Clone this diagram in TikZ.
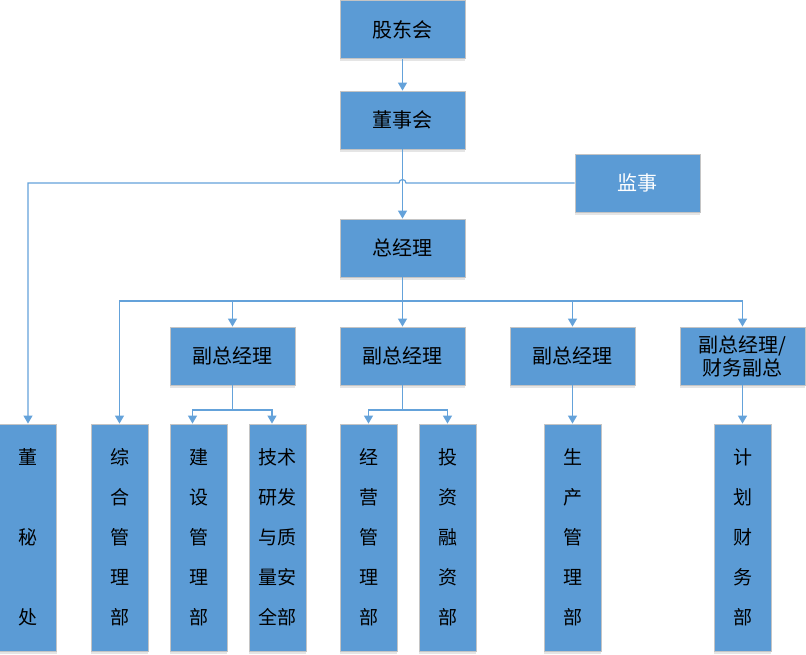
\documentclass[tikz,border=0pt]{standalone}
\usepackage{fontspec}
\setmainfont{Noto Sans CJK SC}
\usetikzlibrary{arrows.meta,shadows,calc}
\definecolor{boxblue}{HTML}{5B9BD5}
\definecolor{linkblue}{HTML}{64A2DA}
\definecolor{edgegray}{HTML}{C4C4C4}
\begin{document}
\begin{tikzpicture}[x=1pt,y=-1pt,
 box/.style={draw=edgegray, line width=0.8pt, fill=boxblue, minimum width=125pt, minimum height=58pt, inner sep=0pt, align=center, text=black, font=\fontsize{20}{23}\selectfont, drop shadow={shadow xshift=0pt, shadow yshift=-2.5pt, fill=black!10, opacity=1}},
 col/.style={box, minimum width=57pt, minimum height=227pt, font=\fontsize{19}{40}\selectfont},
 link/.style={draw=linkblue, line width=1.2pt},
 arr/.style={link, -{Triangle[width=9pt,length=8pt]}}
]
\useasboundingbox (0,0) rectangle (806,654);

\node[box] (gd)  at (402.5,29.5) {股东会};
\node[box] (dsh) at (402.5,120) {董事会};
\node[box, text=white] (js) at (637.5,183) {监事};
\node[box] (zjl) at (402.5,248) {总经理};
\node[box] (fz1) at (232.5,356) {副总经理};
\node[box] (fz2) at (402.5,356) {副总经理};
\node[box] (fz3) at (572.5,356) {副总经理};
\node[box] (fz4) at (742.5,356) {副总经理/\\财务副总};

\node[col] (b1) at (28,537.5) {董\\[40pt]秘\\[40pt]处};
\node[col] (b2) at (119.5,537.5) {综\\合\\管\\理\\部};
\node[col] (b3) at (198.5,537.5) {建\\设\\管\\理\\部};
\node[col] (b4) at (277.5,537.5) {技术\\研发\\与质\\量安\\全部};
\node[col] (b5) at (368.5,537.5) {经\\营\\管\\理\\部};
\node[col] (b6) at (447.5,537.5) {投\\资\\融\\资\\部};
\node[col] (b7) at (572.5,537.5) {生\\产\\管\\理\\部};
\node[col] (b8) at (742.5,537.5) {计\\划\\财\\务\\部};

\draw[arr] (gd) -- (dsh);
\draw[arr] (dsh) -- (zjl);

\coordinate (jump) at ($(dsh.south |- js.west)+(3.5,0)$);
\draw[arr] (js.west) -- (jump) arc[start angle=0, end angle=-180, radius=3.5] -- (b1.north |- js.west) -- (b1.north);

\coordinate (bus) at (0,301);
\draw[arr] (zjl.south) -- (zjl.south |- bus) -| (b2.north);
\draw[arr] (zjl.south |- bus) -| (fz4.north);
\draw[arr] (zjl.south |- bus) -- (fz2.north);
\draw[arr] (fz1.north |- bus) -- (fz1.north);
\draw[arr] (fz3.north |- bus) -- (fz3.north);

\coordinate (g1) at (0,410);
\coordinate (a3) at ($(b3.north)+(-6,0)$);
\coordinate (a4) at ($(b4.north)+(-5.5,0)$);
\draw[link] (fz1.south) -- (fz1.south |- g1);
\draw[arr] (fz1.south |- g1) -| (a3);
\draw[arr] (fz1.south |- g1) -| (a4);

\draw[link] (fz2.south) -- (fz2.south |- g1);
\draw[arr] (fz2.south |- g1) -| (b5.north);
\draw[arr] (fz2.south |- g1) -| (b6.north);

\draw[arr] (fz3) -- (b7);
\draw[arr] (fz4) -- (b8);
\end{tikzpicture}
\end{document}
